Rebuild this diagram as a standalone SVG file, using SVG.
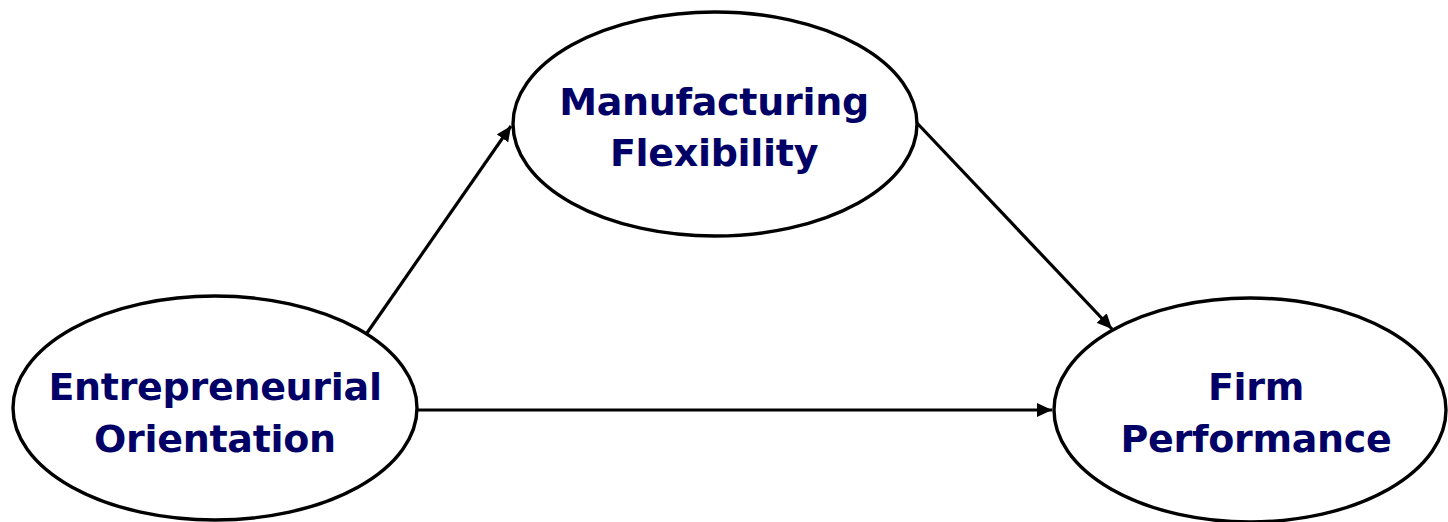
<svg xmlns="http://www.w3.org/2000/svg" width="1448" height="522" viewBox="0 0 1448 522">
  <style>
    .node { fill: #ffffff; stroke: #000000; stroke-width: 3.4; }
    .label { font-family: "DejaVu Sans", "Liberation Sans", sans-serif; font-weight: bold; font-size: 38px; fill: #000066; text-anchor: middle; letter-spacing: -0.3px; }
    .edge { fill: none; stroke: #000000; stroke-width: 3.2; }
  </style>
  <defs>
    <marker id="arrow" markerUnits="userSpaceOnUse" markerWidth="16" markerHeight="14" refX="15" refY="7" orient="auto">
      <path d="M0,0 L15,7 L0,14 z" fill="#000000"/>
    </marker>
  </defs>
  <rect width="1448" height="522" fill="#ffffff"/>

  <g id="connectors">
    <line class="edge" x1="367" y1="333" x2="511" y2="126" marker-end="url(#arrow)"/>
    <line class="edge" x1="917" y1="123" x2="1112" y2="329" marker-end="url(#arrow)"/>
    <line class="edge" x1="417" y1="410" x2="1052" y2="410" marker-end="url(#arrow)"/>
  </g>

  <g id="entrepreneurial-orientation">
    <ellipse class="node" cx="215" cy="408" rx="202" ry="112"/>
    <text class="label" x="215" y="400">Entrepreneurial</text>
    <text class="label" x="215" y="452">Orientation</text>
  </g>

  <g id="manufacturing-flexibility">
    <ellipse class="node" cx="715" cy="124" rx="202" ry="112"/>
    <text class="label" x="714" y="115">Manufacturing</text>
    <text class="label" x="714" y="166">Flexibility</text>
  </g>

  <g id="firm-performance">
    <ellipse class="node" cx="1250" cy="410" rx="196" ry="112"/>
    <text class="label" x="1256" y="400">Firm</text>
    <text class="label" x="1256" y="452">Performance</text>
  </g>
</svg>
